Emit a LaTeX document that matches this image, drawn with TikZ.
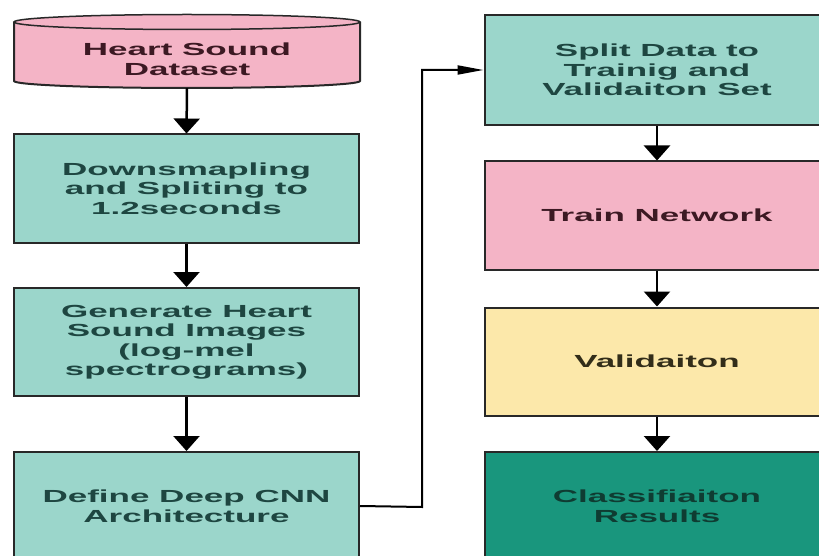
\documentclass[tikz,border=0pt]{standalone}
\usepackage{fontspec}
\setmainfont{Liberation Sans}[FakeStretch=2.0]
\usetikzlibrary{arrows.meta}
\definecolor{pinkc}{RGB}{244,180,198}
\definecolor{tealL}{RGB}{155,214,203}
\definecolor{yelc}{RGB}{252,232,170}
\definecolor{tealD}{RGB}{25,150,125}
\definecolor{txtT}{RGB}{30,70,65}
\definecolor{txtP}{RGB}{60,25,35}
\definecolor{txtY}{RGB}{50,45,25}
\definecolor{txtD}{RGB}{15,60,50}
\definecolor{edge}{RGB}{40,40,40}
\begin{document}
\begin{tikzpicture}[x=1pt,y=-1pt,
  box/.style={draw=edge, line width=2pt, minimum width=345pt, minimum height=108pt, align=center,
    font=\fontsize{17.5}{19.5}\selectfont\bfseries, inner sep=0pt},
  flow/.style={draw=black, line width=2.5pt, -{Triangle[width=26pt,length=15pt]}},
  feed/.style={draw=black, line width=2pt, -{Triangle[width=9pt,length=26pt]}}]
\useasboundingbox (0,0) rectangle (819,556);
\clip (0,0) rectangle (819,556);
\fill[white] (0,0) rectangle (819,556);
% cylinder
\path[fill=pinkc, draw=edge, line width=2pt] (14,22) -- (14,81) arc[start angle=180,end angle=0,x radius=173,y radius=7] -- (360,22);
\draw[fill=pinkc, draw=edge, line width=1.5pt] (187,22) ellipse [x radius=173, y radius=7.5];
\node[minimum width=346pt, minimum height=74pt, inner sep=0pt] (ds) at (187,51) {};
\node[align=center, text=txtP, inner sep=0pt,
  font=\fontsize{17.5}{19.5}\selectfont\bfseries] (dstxt) at (187,59) {Heart Sound\\Dataset};
\node[box, fill=tealL, text=txtT] (down) at (186.5,188.5) {Downsmapling\\and Spliting to\\1.2seconds};
\node[box, fill=tealL, text=txtT] (gen) at (186.5,342) {Generate Heart\\Sound Images\\(log-mel\\spectrograms)};
\node[box, fill=tealL, text=txtT, minimum height=108pt] (cnn) at (186.5,506) {Define Deep CNN\\Architecture};
\node[box, fill=tealL, text=txtT, minimum height=110pt] (split) at (657,70) {Split Data to\\Trainig and\\Validaiton Set};
\node[box, fill=pinkc, text=txtP] (train) at (657,215.5) {Train Network};
\node[box, fill=yelc, text=txtY] (val) at (657,361.5) {Validaiton};
\node[box, fill=tealD, text=txtD] (res) at (657,506) {Classifiaiton\\Results};
\coordinate (c1) at (422,507);
\coordinate (c2) at (422,70);
\draw[flow] (ds.south) -- (down.north);
\draw[flow] (down.south) -- (gen.north);
\draw[flow] (gen.south) -- (cnn.north);
\draw[flow] (split.south) -- (train.north);
\draw[flow] (train.south) -- (val.north);
\draw[flow] (val.south) -- (res.north);
\draw[feed] (cnn.east) -- (c1) -- (c2) -- (split.west);
\end{tikzpicture}
\end{document}
